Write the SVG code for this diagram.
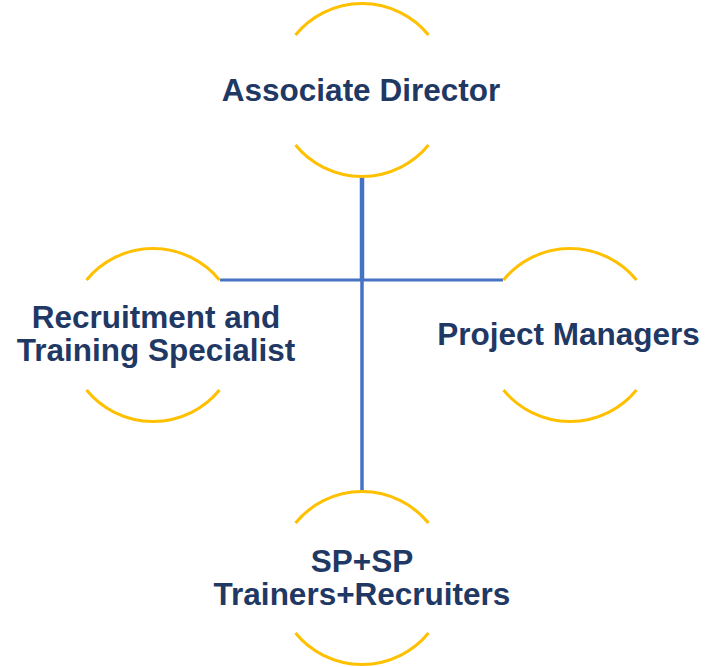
<svg xmlns="http://www.w3.org/2000/svg" width="705" height="667" viewBox="0 0 705 667">
<style>
.arc{fill:none;stroke:#FFC000;stroke-width:3}
.con{fill:none;stroke:#4472C4;stroke-linecap:butt}
.lbl{font-family:"Liberation Sans",Arial,sans-serif;font-weight:bold;font-size:31.5px;fill:#1F3864;text-anchor:middle}
</style>
<rect width="705" height="667" fill="#ffffff"/>
<g id="connectors">
<line class="con" x1="362" y1="176" x2="362" y2="280" stroke-width="4.5"/>
<line class="con" x1="362" y1="280" x2="362" y2="493" stroke-width="3.5"/>
<line class="con" x1="220" y1="280" x2="503" y2="280" stroke-width="3"/>
</g>
<g id="node-associate-director">
<path class="arc" d="M295.5,35 A86,86 0 0 1 428.5,35"/>
<path class="arc" d="M295.5,145 A86,86 0 0 0 428.5,145"/>
<text class="lbl" x="361" y="101">Associate Director</text>
</g>
<g id="node-recruitment">
<path class="arc" d="M86.5,280 A86,86 0 0 1 219.5,280"/>
<path class="arc" d="M86.5,390 A86,86 0 0 0 219.5,390"/>
<text class="lbl" x="156" y="328">Recruitment and</text>
<text class="lbl" x="156" y="361">Training Specialist</text>
</g>
<g id="node-project-managers">
<path class="arc" d="M503.5,280 A86,86 0 0 1 636.5,280"/>
<path class="arc" d="M503.5,390 A86,86 0 0 0 636.5,390"/>
<text class="lbl" x="568.5" y="345">Project Managers</text>
</g>
<g id="node-sp">
<path class="arc" d="M295.5,523 A86,86 0 0 1 428.5,523"/>
<path class="arc" d="M295.5,633 A86,86 0 0 0 428.5,633"/>
<text class="lbl" x="362" y="572">SP+SP</text>
<text class="lbl" x="362" y="605">Trainers+Recruiters</text>
</g>
</svg>
